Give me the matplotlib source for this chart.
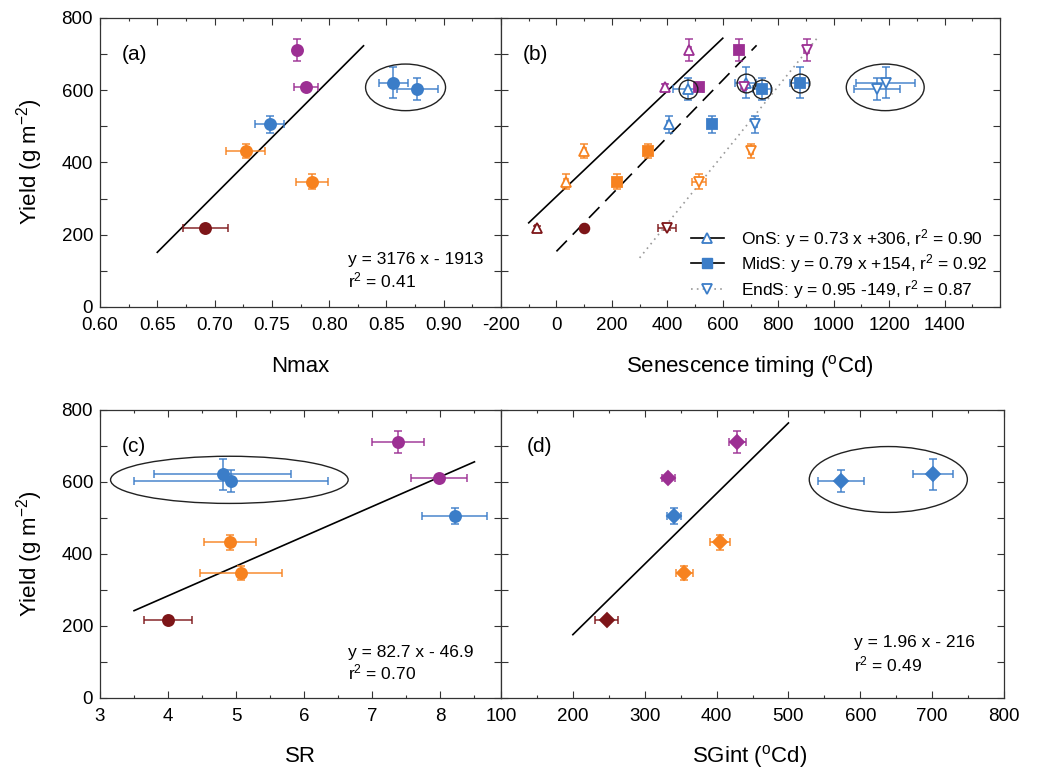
import matplotlib
matplotlib.use("Agg")
import matplotlib.pyplot as plt
from matplotlib.lines import Line2D
from matplotlib.patches import Ellipse
from matplotlib.ticker import MultipleLocator

plt.rcParams["font.family"] = ["Liberation Sans", "DejaVu Sans"]
plt.rcParams["mathtext.fontset"] = "custom"
plt.rcParams["mathtext.rm"] = "Liberation Sans"
plt.rcParams["mathtext.it"] = "Liberation Sans:italic"

# treatments: dark red, orange A, orange B, blue A, purple A, purple B, blue B, blue C
DARKRED, ORANGE, BLUE, PURPLE = "#7d1518", "#f7821f", "#3b7dc8", "#9c2f93"
point_colors = [DARKRED, ORANGE, ORANGE, BLUE, PURPLE, PURPLE, BLUE, BLUE]
yield_mean = [218, 432, 347, 506, 711, 610, 621, 603]
yield_se = [6, 20, 20, 23, 30, 6, 43, 31]

# (a) Nmax
nmax = [0.692, 0.727, 0.785, 0.748, 0.772, 0.780, 0.856, 0.877]
nmax_se = [0.0195, 0.017, 0.014, 0.013, 0.003, 0.0105, 0.0124, 0.018]

# (b) senescence timing
ons = [-71, 100, 34, 405, 479, 392, 682, 475]
ons_se = [6, 6, 6, 6, 6, 6, 39, 55]
mids = [100, 332, 220, 561, 658, 516, 877, 741]
mids_se = [6, 8, 6, 6, 6, 6, 33, 33]
mids_markers = ["o", "s", "s", "s", "s", "s", "s", "s"]
ends = [399, 702, 513, 718, 903, 678, 1187, 1158]
ends_se = [33, 6, 25, 6, 9, 6, 107, 83]
ons_circled = [False, False, False, False, False, False, True, True]
mids_circled = [False, False, False, False, False, False, True, True]

# (c) SR
sr = [4.00, 4.91, 5.07, 8.21, 7.38, 7.98, 4.80, 4.92]
sr_se = [0.357, 0.38, 0.605, 0.48, 0.384, 0.41, 1.006, 1.427]

# (d) SGint
sgint = [247, 405, 355, 341, 429, 333, 701, 573]
sgint_se = [15.8, 14, 11.6, 10, 11.6, 9.3, 27.4, 31.8]

# regressions: slope, intercept, x range
fit_a = (3176, -1913, 0.65, 0.83)
fit_ons = (0.73, 306, -100, 600)
fit_mids = (0.79, 154, 0, 722)
fit_ends = (0.95, -149, 300, 940)
fit_c = (82.7, -46.9, 3.5, 8.5)
fit_d = (1.96, -216, 200, 500)

# highlighted groups: centre x, centre y, width, height
ell_a = (0.8667, 608, 0.0698, 129)
ell_b = (1186, 608, 281, 129)
ell_c = (4.90, 606, 3.49, 131)
ell_d = (639, 607, 220, 183)

W, H = 1038, 771
fig = plt.figure(figsize=(W / 100, H / 100), dpi=100)


def px_axes(x0, x1, ytop, ybot):
    return fig.add_axes([x0 / W, 1 - ybot / H, (x1 - x0) / W, (ybot - ytop) / H])


ax_a = px_axes(100, 501, 18, 307)
ax_b = px_axes(501, 1000, 18, 307)
ax_c = px_axes(100, 501, 410, 698)
ax_d = px_axes(501, 1004, 410, 698)


def style(ax, xlim, major, minor, ticks, labels, left):
    ax.set_xlim(*xlim)
    ax.set_ylim(0, 800)
    ax.xaxis.set_major_locator(MultipleLocator(major))
    ax.xaxis.set_minor_locator(MultipleLocator(minor))
    ax.yaxis.set_major_locator(MultipleLocator(200))
    ax.yaxis.set_minor_locator(MultipleLocator(100))
    ax.set_xticks(ticks)
    ax.set_xticklabels(labels)
    ax.tick_params(which="both", direction="in", top=True, right=True,
                   labelsize=13.5, color="#333333", width=0.8)
    ax.tick_params(which="major", length=5)
    ax.tick_params(axis="x", which="minor", length=2.5)
    ax.tick_params(axis="y", which="minor", length=5)
    ax.tick_params(axis="x", pad=7)
    ax.tick_params(axis="y", pad=5)
    if not left:
        ax.tick_params(axis="y", labelleft=False)
    for s in ax.spines.values():
        s.set_linewidth(0.9)
        s.set_color("#333333")


def draw_points(ax, xs, xse, marker, filled=True, markers=None, ms=7.5):
    for i in range(len(xs)):
        c = point_colors[i]
        m = markers[i] if markers else marker
        ax.errorbar(xs[i], yield_mean[i], xerr=xse[i], yerr=yield_se[i], fmt="none",
                    ecolor=c, elinewidth=1.2, capsize=2.6, capthick=1.2, alpha=0.85, zorder=2)
        ax.plot(xs[i], yield_mean[i], marker=m, ms=ms, linestyle="none",
                mfc=c if (filled or m == "o") else "white", mec=c,
                mew=1.3, zorder=3)


def draw_fit(ax, fit, **kw):
    k, b, x0, x1 = fit
    ax.plot([x0, x1], [k * x0 + b, k * x1 + b], **kw)


def draw_ellipse(ax, e):
    ax.add_patch(Ellipse((e[0], e[1]), e[2], e[3], fill=False, ec="#222222", lw=1.0, zorder=4))


# (a)
style(ax_a, (0.60, 0.95), 0.05, 0.025, [0.60, 0.65, 0.70, 0.75, 0.80, 0.85, 0.90],
      ["0.60", "0.65", "0.70", "0.75", "0.80", "0.85", "0.90"], True)
draw_fit(ax_a, fit_a, color="black", lw=1.2)
draw_points(ax_a, nmax, nmax_se, "o", ms=8)
draw_ellipse(ax_a, ell_a)

# (b)
style(ax_b, (-200, 1600), 200, 100, list(range(-200, 1600, 200)),
      [str(v) for v in range(-200, 1600, 200)], False)
draw_fit(ax_b, fit_ons, color="black", lw=1.2)
draw_fit(ax_b, fit_mids, color="black", lw=1.2, linestyle=(0, (9, 5)))
draw_fit(ax_b, fit_ends, color="#9a9a9a", lw=1.2, linestyle=(0, (1, 2.5)))
draw_points(ax_b, ons, ons_se, "^", filled=False)
draw_points(ax_b, mids, mids_se, "s", markers=mids_markers, ms=7)
draw_points(ax_b, ends, ends_se, "v", filled=False)
for xs, flags in [(ons, ons_circled), (mids, mids_circled)]:
    for i in range(len(xs)):
        if flags[i]:
            ax_b.plot(xs[i], yield_mean[i], marker="o", ms=13.5, mfc="none",
                      mec="#222222", mew=1.0, linestyle="none", zorder=4)
draw_ellipse(ax_b, ell_b)

handles = [
    Line2D([], [], color="black", lw=1.2, marker="^", ms=7.5, mfc="white", mec=BLUE, mew=1.3),
    Line2D([], [], color="black", lw=1.2, marker="s", ms=7, mfc=BLUE, mec=BLUE),
    Line2D([], [], color="#9a9a9a", lw=1.2, linestyle=(0, (1, 2.5)), marker="v", ms=7.5,
           mfc="white", mec=BLUE, mew=1.3),
]
labels = [
    "OnS: y = 0.73 x +306, r$^2$ = 0.90",
    "MidS: y = 0.79 x +154, r$^2$ = 0.92",
    "EndS: y = 0.95 -149, r$^2$ = 0.87",
]
ax_b.legend(handles, labels, loc="lower right", bbox_to_anchor=(1.0, -0.02),
            frameon=False, fontsize=12.5, handlelength=1.9, handletextpad=1.0,
            labelspacing=0.15, borderaxespad=0.3)

# (c)
style(ax_c, (3, 8.89), 1, 0.5, [3, 4, 5, 6, 7, 8], ["3", "4", "5", "6", "7", "8"], True)
draw_fit(ax_c, fit_c, color="black", lw=1.2)
draw_points(ax_c, sr, sr_se, "o", ms=8)
draw_ellipse(ax_c, ell_c)

# (d)
style(ax_d, (100, 800), 100, 50, list(range(100, 900, 100)),
      [str(v) for v in range(100, 900, 100)], False)
draw_fit(ax_d, fit_d, color="black", lw=1.2)
draw_points(ax_d, sgint, sgint_se, "D", ms=7)
draw_ellipse(ax_d, ell_d)

# panel letters and equations
for ax, letter, lx in [(ax_a, "(a)", 0.055), (ax_b, "(b)", 0.044), (ax_c, "(c)", 0.055), (ax_d, "(d)", 0.052)]:
    ax.text(lx, 0.875, letter, transform=ax.transAxes, fontsize=15, va="center", ha="left")

ax_a.text(0.618, 0.166, "y = 3176 x - 1913", transform=ax_a.transAxes, fontsize=12.5, va="center")
ax_a.text(0.618, 0.093, "r$^2$ = 0.41", transform=ax_a.transAxes, fontsize=12.5, va="center")
ax_c.text(0.618, 0.157, "y = 82.7 x - 46.9", transform=ax_c.transAxes, fontsize=12.5, va="center")
ax_c.text(0.618, 0.087, "r$^2$ = 0.70", transform=ax_c.transAxes, fontsize=12.5, va="center")
ax_d.text(0.702, 0.191, "y = 1.96 x - 216", transform=ax_d.transAxes, fontsize=12.5, va="center")
ax_d.text(0.702, 0.115, "r$^2$ = 0.49", transform=ax_d.transAxes, fontsize=12.5, va="center")

# axis titles
fig.text(300 / W, 1 - 367 / H, "Nmax", fontsize=16, ha="center", va="center")
fig.text(750 / W, 1 - 367 / H, "Senescence timing ($^{\\rm o}$Cd)", fontsize=16, ha="center", va="center")
fig.text(300 / W, 1 - 757 / H, "SR", fontsize=16, ha="center", va="center")
fig.text(750 / W, 1 - 757 / H, "SGint ($^{\\rm o}$Cd)", fontsize=16, ha="center", va="center")
for yc in (162, 554):
    fig.text(30 / W, 1 - yc / H, "Yield (g m$^{-2}$)", fontsize=16, ha="center", va="center",
             rotation=90)

fig.savefig("out.png", dpi=100, facecolor="white")
